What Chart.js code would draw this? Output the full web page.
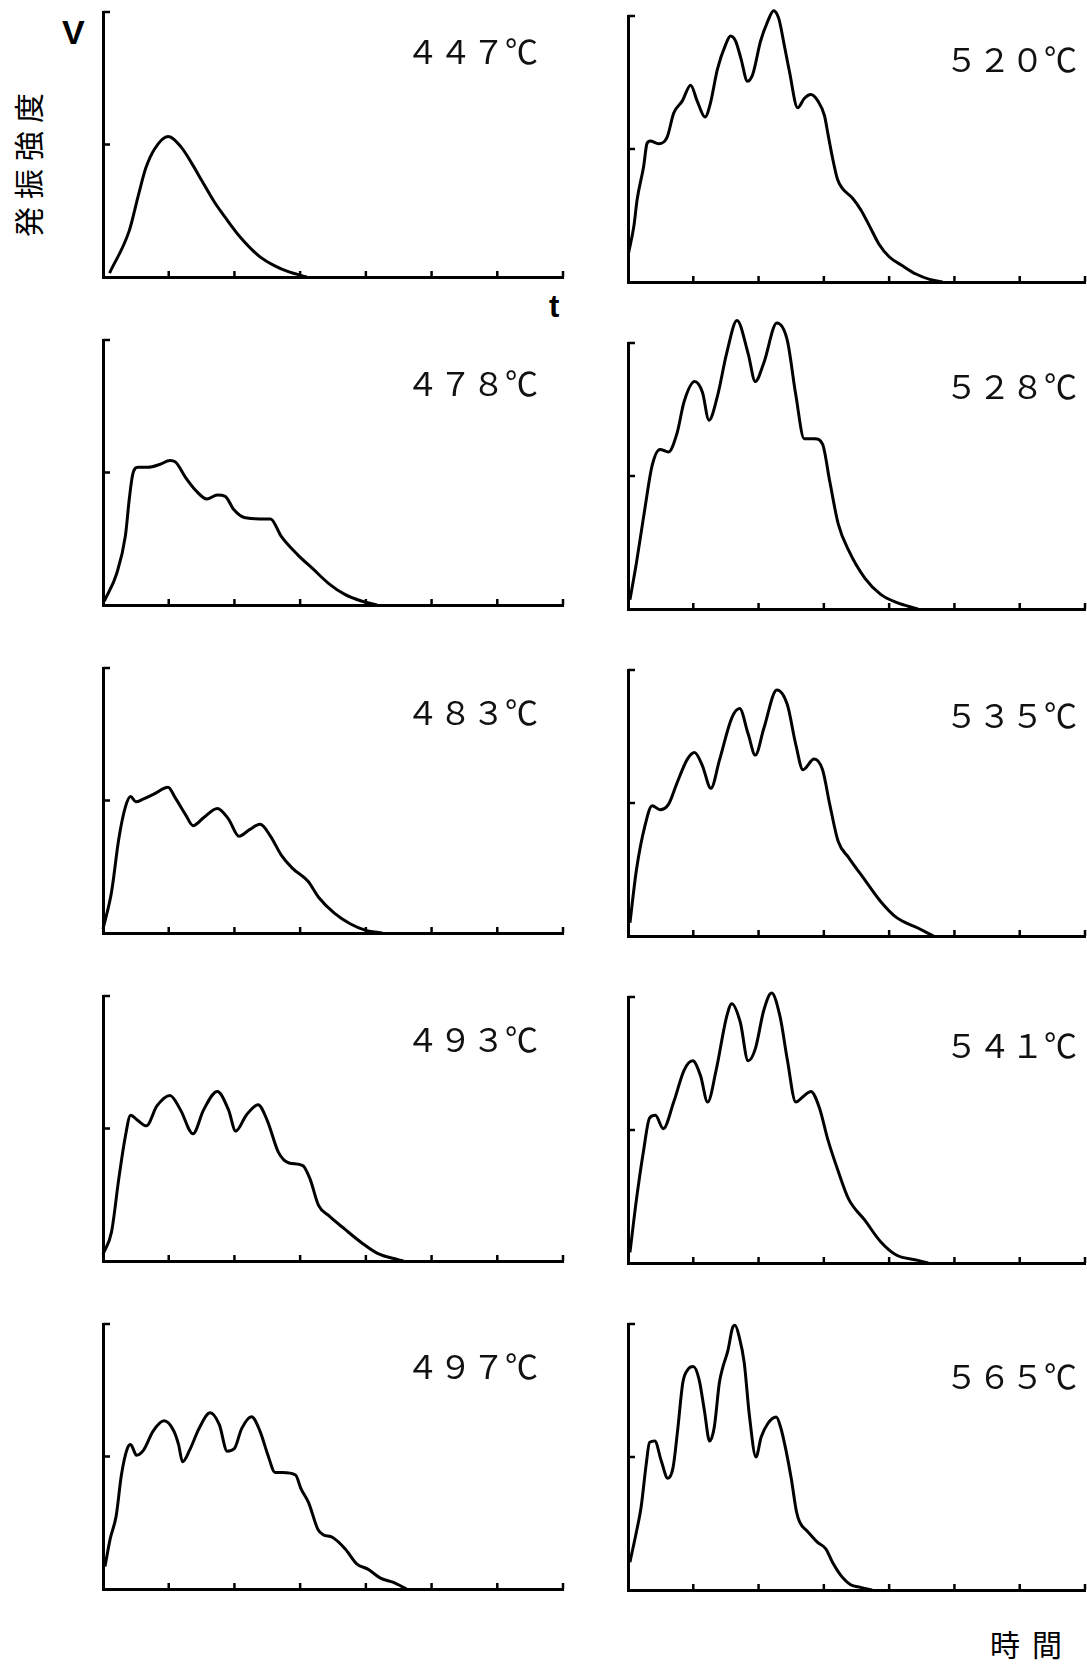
<!DOCTYPE html>
<html lang="ja">
<head>
<meta charset="UTF-8">
<title>発振強度</title>
<script src="https://cdn.jsdelivr.net/npm/chart.js"></script>
<style>
  html, body { margin: 0; padding: 0; background: #fff; overflow: hidden; }
  #page { position: relative; width: 1087px; height: 1665px; overflow: hidden; background: #fff; }
  #page canvas { position: absolute; }
  .temp {
    position: absolute;
    font-family: "Noto Sans CJK JP", "Noto Sans", sans-serif;
    font-size: 33px;
    line-height: 1;
    color: #111;
    white-space: nowrap;
  }
  .axisname {
    position: absolute;
    font-family: "Liberation Sans", Arial, sans-serif;
    font-weight: bold;
    color: #000;
    line-height: 1;
  }
  .jp {
    position: absolute;
    font-family: "Noto Sans CJK JP", sans-serif;
    color: #000;
    line-height: 1;
    white-space: nowrap;
  }
</style>
</head>
<body>
<div id="page">
  <div class="axisname" style="left:62px; top:15px; font-size:34px;">V</div>
  <div class="axisname" style="left:549px; top:291px; font-size:31px;">t</div>
  <div class="jp" style="left:27px; top:161px; font-size:30px; letter-spacing:8px; transform: translate(-50%, -50%) rotate(-90deg);">発振強度</div>
  <div class="jp" style="left:990px; top:1628px; font-size:30px; letter-spacing:12px;">時間</div>
</div>

<script>
  // 温度ごとの発振強度カーブ (横軸: 時間 0〜7目盛, 縦軸: 0〜2目盛)
  const temps = ['447', '478', '483', '493', '497', '520', '528', '535', '541', '565'];

  const t447 = [0.1, 0.4, 0.54, 0.65, 0.79, 0.99, 1.19, 1.36, 1.5, 1.69, 1.86, 2.09, 2.37, 2.63, 2.82, 3.1];
  const v447 = [0.03, 0.35, 0.62, 0.82, 0.97, 1.06, 0.98, 0.85, 0.73, 0.57, 0.45, 0.30, 0.16, 0.08, 0.04, 0];

  const t478 = [0.02, 0.21, 0.34, 0.40, 0.45, 0.53, 0.69, 0.86, 1.02, 1.10, 1.26, 1.42, 1.58, 1.74, 1.86, 1.99, 2.15, 2.39, 2.55, 2.71, 2.96, 3.20, 3.44, 3.68, 3.93, 4.17];
  const v478 = [0.03, 0.24, 0.52, 0.80, 0.98, 1.04, 1.04, 1.06, 1.09, 1.08, 0.96, 0.86, 0.80, 0.83, 0.82, 0.72, 0.66, 0.65, 0.65, 0.52, 0.38, 0.27, 0.16, 0.08, 0.03, 0];

  const t483 = [0.0, 0.13, 0.24, 0.34, 0.42, 0.50, 0.61, 0.78, 0.99, 1.10, 1.26, 1.37, 1.53, 1.74, 1.91, 2.07, 2.23, 2.39, 2.55, 2.71, 2.88, 3.12, 3.28, 3.52, 3.76, 4.0, 4.25];
  const v483 = [0.03, 0.31, 0.71, 0.95, 1.03, 0.99, 1.01, 1.05, 1.10, 1.02, 0.89, 0.81, 0.87, 0.94, 0.86, 0.73, 0.78, 0.82, 0.73, 0.59, 0.49, 0.39, 0.27, 0.15, 0.07, 0.02, 0];

  const t493 = [0.0, 0.13, 0.24, 0.34, 0.42, 0.53, 0.66, 0.82, 1.02, 1.18, 1.37, 1.53, 1.74, 1.91, 2.02, 2.18, 2.36, 2.50, 2.67, 2.83, 3.04, 3.15, 3.28, 3.44, 3.68, 3.93, 4.17, 4.49, 4.57];
  const v493 = [0.05, 0.22, 0.62, 0.94, 1.10, 1.06, 1.02, 1.17, 1.25, 1.14, 0.96, 1.14, 1.28, 1.14, 0.98, 1.10, 1.18, 1.06, 0.82, 0.74, 0.72, 0.62, 0.42, 0.34, 0.24, 0.14, 0.06, 0.01, 0];

  const t497 = [0.03, 0.11, 0.2, 0.28, 0.37, 0.42, 0.51, 0.62, 0.76, 0.93, 1.07, 1.15, 1.21, 1.32, 1.46, 1.63, 1.77, 1.89, 2.0, 2.11, 2.26, 2.39, 2.51, 2.62, 2.73, 2.93, 3.01, 3.13, 3.27, 3.35, 3.49, 3.69, 3.86, 4.03, 4.23, 4.42, 4.62];
  const v497 = [0.17, 0.38, 0.55, 0.86, 1.06, 1.09, 1.01, 1.05, 1.19, 1.27, 1.20, 1.09, 0.96, 1.05, 1.21, 1.33, 1.24, 1.04, 1.06, 1.21, 1.30, 1.19, 1.01, 0.88, 0.88, 0.86, 0.76, 0.65, 0.45, 0.41, 0.39, 0.30, 0.19, 0.15, 0.08, 0.05, 0];

  const t520 = [0.01, 0.09, 0.14, 0.24, 0.29, 0.34, 0.47, 0.60, 0.70, 0.83, 0.96, 1.06, 1.18, 1.26, 1.37, 1.50, 1.57, 1.65, 1.73, 1.83, 1.91, 2.03, 2.14, 2.23, 2.31, 2.39, 2.47, 2.60, 2.70, 2.80, 2.91, 3.01, 3.06, 3.13, 3.21, 3.29, 3.44, 3.57, 3.70, 3.85, 4.00, 4.21, 4.41, 4.62, 4.82];
  const v520 = [0.22, 0.42, 0.62, 0.87, 1.04, 1.06, 1.04, 1.09, 1.27, 1.36, 1.48, 1.36, 1.24, 1.34, 1.60, 1.79, 1.85, 1.81, 1.68, 1.51, 1.56, 1.81, 1.96, 2.04, 1.98, 1.79, 1.59, 1.31, 1.38, 1.41, 1.36, 1.25, 1.12, 0.94, 0.77, 0.70, 0.63, 0.54, 0.42, 0.28, 0.19, 0.12, 0.06, 0.02, 0];

  const t528 = [0.03, 0.13, 0.26, 0.37, 0.49, 0.62, 0.75, 0.86, 1.02, 1.14, 1.24, 1.37, 1.51, 1.67, 1.84, 1.95, 2.08, 2.28, 2.44, 2.57, 2.70, 2.86, 2.98, 3.09, 3.22, 3.38, 3.63, 3.87, 4.11, 4.44];
  const v528 = [0.07, 0.35, 0.76, 1.08, 1.20, 1.18, 1.32, 1.56, 1.71, 1.63, 1.42, 1.60, 1.92, 2.17, 1.92, 1.71, 1.85, 2.15, 2.02, 1.61, 1.28, 1.28, 1.24, 0.96, 0.64, 0.44, 0.23, 0.11, 0.05, 0];

  const t535 = [0.03, 0.13, 0.26, 0.37, 0.49, 0.62, 0.75, 0.91, 1.02, 1.14, 1.27, 1.40, 1.59, 1.71, 1.84, 1.95, 2.08, 2.28, 2.44, 2.57, 2.68, 2.85, 2.98, 3.09, 3.22, 3.38, 3.63, 3.87, 4.11, 4.44, 4.68];
  const v535 = [0.10, 0.50, 0.83, 0.98, 0.95, 0.99, 1.15, 1.33, 1.38, 1.28, 1.11, 1.32, 1.64, 1.71, 1.52, 1.36, 1.56, 1.85, 1.74, 1.44, 1.25, 1.33, 1.25, 0.99, 0.71, 0.59, 0.42, 0.26, 0.14, 0.06, 0];

  const t541 = [0.03, 0.13, 0.24, 0.33, 0.42, 0.54, 0.70, 0.86, 0.99, 1.11, 1.22, 1.35, 1.51, 1.59, 1.72, 1.84, 1.95, 2.08, 2.20, 2.33, 2.44, 2.57, 2.68, 2.80, 2.93, 3.06, 3.22, 3.38, 3.63, 3.87, 4.11, 4.44, 4.6];
  const v541 = [0.08, 0.48, 0.85, 1.09, 1.11, 1.01, 1.21, 1.45, 1.52, 1.41, 1.21, 1.45, 1.85, 1.95, 1.81, 1.52, 1.61, 1.90, 2.03, 1.85, 1.53, 1.21, 1.25, 1.29, 1.17, 0.93, 0.69, 0.48, 0.32, 0.16, 0.06, 0.02, 0];

  const t565 = [0.03, 0.13, 0.20, 0.28, 0.33, 0.41, 0.51, 0.61, 0.69, 0.76, 0.84, 0.92, 1.0, 1.09, 1.17, 1.25, 1.32, 1.40, 1.45, 1.53, 1.60, 1.64, 1.70, 1.78, 1.86, 1.96, 2.04, 2.14, 2.27, 2.34, 2.42, 2.50, 2.58, 2.63, 2.75, 2.90, 3.03, 3.13, 3.26, 3.41, 3.56, 3.74];
  const v565 = [0.21, 0.44, 0.62, 0.95, 1.11, 1.12, 0.97, 0.84, 0.92, 1.20, 1.56, 1.66, 1.68, 1.58, 1.35, 1.12, 1.22, 1.56, 1.67, 1.80, 1.97, 1.99, 1.91, 1.71, 1.31, 1.00, 1.15, 1.25, 1.30, 1.22, 1.05, 0.84, 0.59, 0.51, 0.44, 0.36, 0.31, 0.21, 0.11, 0.04, 0.02, 0];

  const curves = {
    '447': [t447, v447], '478': [t478, v478], '483': [t483, v483], '493': [t493, v493], '497': [t497, v497],
    '520': [t520, v520], '528': [t528, v528], '535': [t535, v535], '541': [t541, v541], '565': [t565, v565]
  };

  const xTicks = [0, 7];   // 時間軸 0〜7目盛
  const yTicks = [0, 2];   // 強度軸 0〜2目盛

  // パネル配置 (左列: 447〜497, 右列: 520〜565)
  const PAD = 30;
  function panelBox(i) {
    const col = i < 5 ? 0 : 1;
    const row = i % 5;
    if (col === 0) {
      return { left: 103, right: 563, top: 12 + 328 * row, bottom: 277 + 328 * row, lx: 406, ly: [34, 366, 695, 1022, 1349][row] };
    }
    return { left: 628, right: 1085, top: 16 + 327 * row, bottom: 282 + 327 * row, lx: 945, ly: [42, 369, 698, 1028, 1359][row] };
  }

  // 軸の内側に向けた短い目盛
  const innerTicks = {
    id: 'innerTicks',
    afterDraw(chart) {
      const { ctx, chartArea: a, scales: { x, y } } = chart;
      ctx.save();
      ctx.strokeStyle = '#000';
      ctx.lineWidth = 2.5;
      ctx.beginPath();
      x.ticks.forEach(t => {
        if (t.value === 0) return;
        const px = x.getPixelForValue(t.value);
        ctx.moveTo(px, a.bottom);
        ctx.lineTo(px, a.bottom - 6);
      });
      y.ticks.forEach(t => {
        if (t.value === 0) return;
        const py = y.getPixelForValue(t.value);
        ctx.moveTo(a.left, py);
        ctx.lineTo(a.left + 7, py);
      });
      ctx.stroke();
      ctx.restore();
    }
  };

  const page = document.getElementById('page');
  const fullWidth = s => s.replace(/[0-9]/g, d => String.fromCharCode(d.charCodeAt(0) + 0xFEE0));

  temps.forEach((temp, i) => {
    const box = panelBox(i);
    const canvas = document.createElement('canvas');
    canvas.width = box.right - box.left + 2 * PAD;
    canvas.height = box.bottom - box.top + 2 * PAD;
    canvas.style.left = (box.left - PAD) + 'px';
    canvas.style.top = (box.top - PAD) + 'px';
    page.appendChild(canvas);

    const label = document.createElement('div');
    label.className = 'temp';
    label.textContent = fullWidth(temp) + '℃';
    label.style.left = box.lx + 'px';
    label.style.top = box.ly + 'px';
    page.appendChild(label);

    const [ts, vs] = curves[temp];
    new Chart(canvas.getContext('2d'), {
      type: 'line',
      data: {
        datasets: [{
          label: temp + '℃',
          data: ts.map((t, k) => ({ x: t, y: vs[k] })),
          borderColor: '#000',
          borderWidth: 3,
          pointRadius: 0,
          fill: false,
          cubicInterpolationMode: 'monotone',
          clip: false
        }]
      },
      options: {
        responsive: false,
        animation: false,
        devicePixelRatio: 1,
        layout: { padding: PAD },
        scales: {
          x: {
            type: 'linear',
            min: xTicks[0], max: xTicks[1],
            ticks: { display: false, stepSize: 1 },
            grid: { drawOnChartArea: false, drawTicks: false },
            border: { display: true, color: '#000', width: 3 }
          },
          y: {
            type: 'linear',
            min: yTicks[0], max: yTicks[1],
            ticks: { display: false, stepSize: 1 },
            grid: { drawOnChartArea: false, drawTicks: false },
            border: { display: true, color: '#000', width: 3 }
          }
        },
        plugins: {
          legend: { display: false },
          tooltip: { enabled: false }
        }
      },
      plugins: [innerTicks]
    });
  });
</script>
</body>
</html>
